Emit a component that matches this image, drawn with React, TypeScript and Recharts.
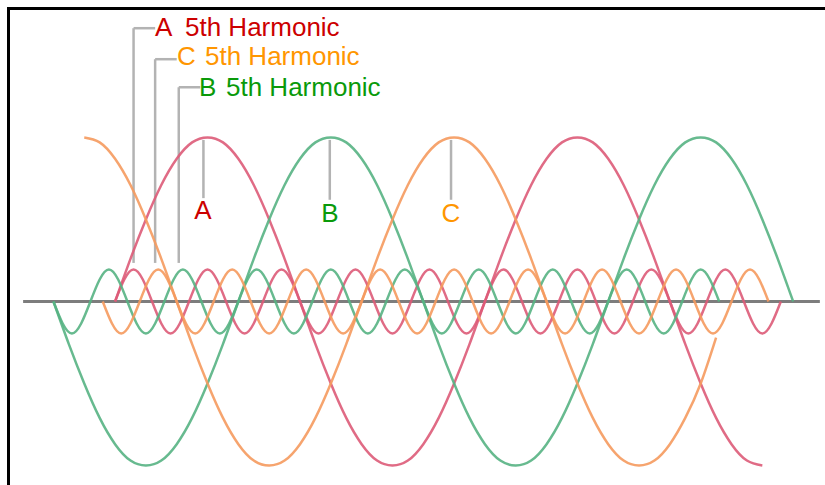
import React from 'react';
import { Line, LineChart, ReferenceLine, XAxis, YAxis } from 'recharts';

// x is the fundamental's electrical angle in degrees (A crosses zero rising at 0)
// fundamentals sampled every 15 deg, 5th harmonics every 18 deg (a quarter of their period)
const fundamentalStep = 15;
const harmonicStep = 18;

const phaseAStart = 0;
const phaseA = [
  0, 0.26, 0.5, 0.71, 0.87, 0.97, 1, 0.97, 0.87, 0.71, 0.5, 0.26,
  0, -0.26, -0.5, -0.71, -0.87, -0.97, -1, -0.97, -0.87, -0.71, -0.5, -0.26,
  0, 0.26, 0.5, 0.71, 0.87, 0.97, 1, 0.97, 0.87, 0.71, 0.5, 0.26,
  0, -0.26, -0.5, -0.71, -0.87, -0.97, -1,
];

const phaseBStart = -60;
const phaseB = [
  0, -0.26, -0.5, -0.71, -0.87, -0.97, -1, -0.97, -0.87, -0.71, -0.5, -0.26,
  0, 0.26, 0.5, 0.71, 0.87, 0.97, 1, 0.97, 0.87, 0.71, 0.5, 0.26,
  0, -0.26, -0.5, -0.71, -0.87, -0.97, -1, -0.97, -0.87, -0.71, -0.5, -0.26,
  0, 0.26, 0.5, 0.71, 0.87, 0.97, 1, 0.97, 0.87, 0.71, 0.5, 0.26, 0,
];

const phaseCStart = -30;
const phaseC = [
  1, 0.97, 0.87, 0.71, 0.5, 0.26, 0, -0.26, -0.5, -0.71, -0.87, -0.97,
  -1, -0.97, -0.87, -0.71, -0.5, -0.26, 0, 0.26, 0.5, 0.71, 0.87, 0.97,
  1, 0.97, 0.87, 0.71, 0.5, 0.26, 0, -0.26, -0.5, -0.71, -0.87, -0.97,
  -1, -0.97, -0.87, -0.71, -0.5, -0.22,
];

const harmonicA5Start = 0;
const harmonicA5 = [
  0, 0.195, 0, -0.195, 0, 0.195, 0, -0.195, 0, 0.195, 0, -0.195,
  0, 0.195, 0, -0.195, 0, 0.195, 0, -0.195, 0, 0.195, 0, -0.195,
  0, 0.195, 0, -0.195, 0, 0.195, 0, -0.195, 0, 0.195, 0, -0.195, 0,
];

const harmonicB5Start = -60;
const harmonicB5 = [
  0, -0.195, 0, 0.195, 0, -0.195, 0, 0.195, 0, -0.195, 0, 0.195,
  0, -0.195, 0, 0.195, 0, -0.195, 0, 0.195, 0, -0.195, 0, 0.195,
  0, -0.195, 0, 0.195, 0, -0.195, 0, 0.195, 0, -0.195, 0, 0.195, 0,
];

const harmonicC5Start = -12;
const harmonicC5 = [
  0, -0.195, 0, 0.195, 0, -0.195, 0, 0.195, 0, -0.195, 0, 0.195,
  0, -0.195, 0, 0.195, 0, -0.195, 0, 0.195, 0, -0.195, 0, 0.195,
  0, -0.195, 0, 0.195, 0, -0.195, 0, 0.195, 0, -0.195, 0, 0.195, 0,
];

// zero axis ends
const axisEnds = [-89.5, 686];

// peak callouts under the fundamentals: angle, top, bottom
const peakCallouts = [
  { name: 'A', deg: 86, top: 0.985, bottom: 0.63 },
  { name: 'B', deg: 209, top: 0.985, bottom: 0.62 },
  { name: 'C', deg: 327, top: 0.985, bottom: 0.62 },
];

// elbow leaders for the 5th harmonic labels: stem angle, elbow end angle, level
const harmonicCallouts = [
  { name: 'A', stem: 18, end: 39, level: 1.666 },
  { name: 'C', stem: 39, end: 60, level: 1.477 },
  { name: 'B', stem: 62, end: 83, level: 1.306 },
];
const harmonicStemBottom = 0.235;

const RED = '#dd5b78';
const GREEN = '#56b283';
const ORANGE = '#f59a5e';
const TEXT_RED = '#cc0000';
const TEXT_GREEN = '#0a9a0a';
const TEXT_ORANGE = '#ff9600';
const LEADER = '#b3b3b3';

const toPoints = (start: number, step: number, values: number[]) =>
  values.map((v, i) => ({ deg: start + i * step, v }));

const series = [
  { key: 'A', data: toPoints(phaseAStart, fundamentalStep, phaseA), color: RED },
  { key: 'B', data: toPoints(phaseBStart, fundamentalStep, phaseB), color: GREEN },
  { key: 'C', data: toPoints(phaseCStart, fundamentalStep, phaseC), color: ORANGE },
  { key: 'A5', data: toPoints(harmonicA5Start, harmonicStep, harmonicA5), color: RED },
  { key: 'B5', data: toPoints(harmonicB5Start, harmonicStep, harmonicB5), color: GREEN },
  { key: 'C5', data: toPoints(harmonicC5Start, harmonicStep, harmonicC5), color: ORANGE },
];

const font = '"Liberation Sans", Arial, sans-serif';

export default function App() {
  return (
    <div style={{ position: 'absolute', left: 0, top: 0, width: 825, height: 485, background: '#fff' }}>
      <LineChart width={825} height={485} margin={{ top: 0, right: 0, bottom: 0, left: 0 }}>
        <XAxis dataKey="deg" type="number" domain={[-112, 691]} allowDataOverflow hide />
        <YAxis type="number" domain={[-1.119, 1.838]} allowDataOverflow hide />
        <Line
          data={axisEnds.map(deg => ({ deg, v: 0 }))}
          dataKey="v"
          type="linear"
          stroke="#7d7d7d"
          strokeWidth={3}
          dot={false}
          activeDot={false}
          isAnimationActive={false}
        />
        {peakCallouts.map(c => (
          <ReferenceLine
            key={`peak-${c.name}`}
            segment={[{ x: c.deg, y: c.top }, { x: c.deg, y: c.bottom }]}
            stroke={LEADER}
            strokeWidth={2.5}
          />
        ))}
        {harmonicCallouts.map(c => (
          <ReferenceLine
            key={`stem-${c.name}`}
            segment={[{ x: c.stem, y: harmonicStemBottom }, { x: c.stem, y: c.level }]}
            stroke={LEADER}
            strokeWidth={2.5}
          />
        ))}
        {harmonicCallouts.map(c => (
          <ReferenceLine
            key={`elbow-${c.name}`}
            segment={[{ x: c.stem, y: c.level }, { x: c.end, y: c.level }]}
            stroke={LEADER}
            strokeWidth={2.5}
          />
        ))}
        {series.map(s => (
          <Line
            key={s.key}
            data={s.data}
            dataKey="v"
            type="natural"
            stroke={s.color}
            strokeWidth={2.5}
            strokeOpacity={0.9}
            dot={false}
            activeDot={false}
            isAnimationActive={false}
          />
        ))}
      </LineChart>
      <svg width={825} height={485} style={{ position: 'absolute', left: 0, top: 0, pointerEvents: 'none' }}>
        <line x1={7} y1={8.5} x2={825} y2={8.5} stroke="#000" strokeWidth={3} />
        <line x1={8.5} y1={7} x2={8.5} y2={485} stroke="#000" strokeWidth={3} />
        <g fontFamily={font} fontSize={26}>
          <text x={155} y={36} fill={TEXT_RED}>
            <tspan>A</tspan>
            <tspan x={185}>5th Harmonic</tspan>
          </text>
          <text x={177} y={65} fill={TEXT_ORANGE}>
            <tspan>C</tspan>
            <tspan x={205}>5th Harmonic</tspan>
          </text>
          <text x={199} y={96} fill={TEXT_GREEN}>
            <tspan>B</tspan>
            <tspan x={226}>5th Harmonic</tspan>
          </text>
        </g>
        <g fontFamily={font} fontSize={26} textAnchor="middle">
          <text x={203} y={219} fill={TEXT_RED}>A</text>
          <text x={330} y={222} fill={TEXT_GREEN}>B</text>
          <text x={451} y={222} fill={TEXT_ORANGE}>C</text>
        </g>
      </svg>
    </div>
  );
}
